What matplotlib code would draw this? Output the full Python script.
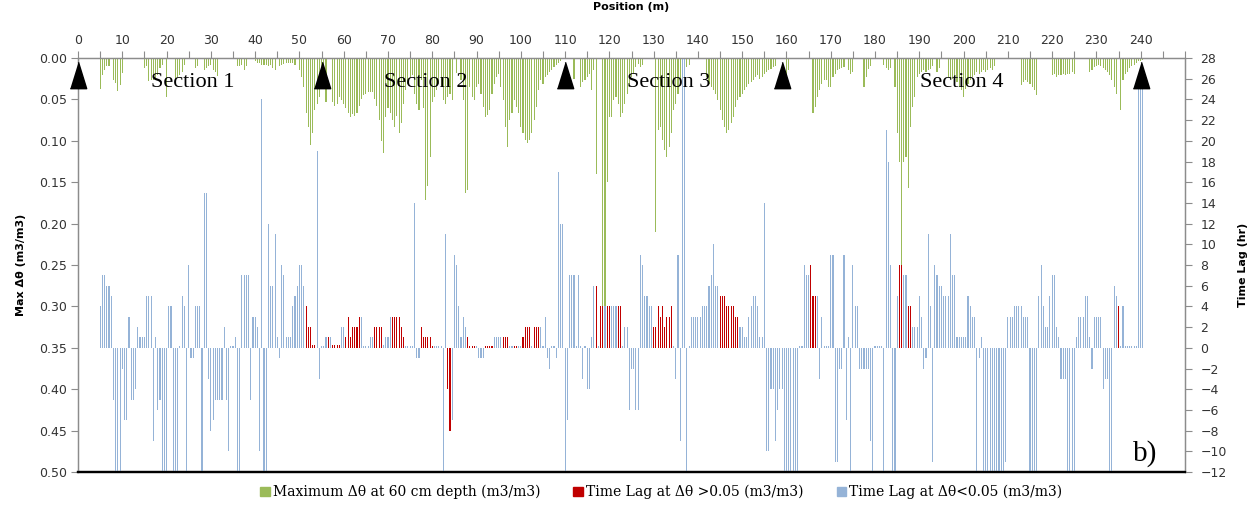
import numpy as np
import matplotlib.pyplot as plt
from matplotlib.patches import Patch
from matplotlib.transforms import blended_transform_factory

# readings every 0.5 m along the transect
position = np.arange(0, 241, 0.5)

# maximum change in water content at 60 cm, in 0.001 m3/m3 (one row = 10 m)
dtheta_milli = [
    0, 0, 0, 0, 0, 0, 0, 0, 0, 0, 37, 20, 15, 10, 10, 0, 27, 30, 40, 33,
    18, 0, 0, 0, 0, 0, 0, 0, 0, 0, 12, 10, 28, 26, 26, 24, 20, 12, 8, 0,
    47, 0, 0, 0, 25, 23, 21, 17, 9, 0, 0, 0, 0, 12, 10, 0, 0, 15, 12, 10,
    8, 15, 17, 22, 0, 0, 0, 0, 0, 0, 0, 0, 10, 10, 8, 15, 10, 0, 0, 0,
    4, 6, 6, 8, 8, 8, 10, 8, 12, 15, 0, 10, 8, 7, 6, 6, 6, 6, 8, 0,
    15, 23, 35, 67, 83, 105, 90, 63, 55, 47, 38, 30, 53, 0, 0, 53, 58, 55, 47, 51,
    55, 60, 66, 71, 68, 70, 66, 58, 50, 45, 43, 41, 41, 41, 50, 58, 75, 100, 115, 71,
    60, 67, 75, 83, 70, 90, 78, 55, 39, 31, 23, 20, 43, 55, 63, 27, 60, 172, 155, 120,
    53, 47, 39, 31, 35, 51, 55, 47, 43, 51, 0, 18, 0, 27, 51, 163, 160, 35, 47, 51,
    35, 31, 43, 59, 71, 69, 63, 43, 31, 23, 19, 35, 51, 83, 107, 75, 67, 51, 59, 67,
    83, 90, 99, 103, 99, 90, 75, 59, 39, 27, 31, 23, 21, 17, 15, 11, 9, 6, 4, 0,
    0, 0, 0, 0, 25, 0, 0, 35, 29, 27, 23, 19, 39, 15, 140, 0, 0, 300, 300, 150,
    71, 71, 51, 47, 55, 71, 67, 55, 43, 35, 23, 19, 11, 7, 11, 8, 0, 0, 0, 0,
    0, 210, 87, 83, 99, 111, 119, 107, 91, 63, 55, 43, 27, 15, 15, 11, 8, 0, 0, 0,
    0, 0, 0, 0, 23, 31, 35, 39, 43, 51, 63, 75, 83, 91, 87, 79, 71, 59, 51, 47,
    43, 39, 35, 31, 29, 27, 23, 21, 25, 23, 19, 17, 15, 13, 11, 10, 0, 0, 0, 0,
    23, 15, 0, 0, 0, 0, 0, 0, 0, 0, 0, 0, 67, 59, 47, 39, 31, 27, 27, 35,
    35, 23, 19, 15, 13, 12, 11, 0, 15, 19, 17, 0, 0, 0, 0, 35, 23, 13, 10, 0,
    0, 0, 0, 0, 8, 12, 15, 12, 0, 35, 90, 125, 250, 125, 120, 157, 83, 59, 47, 23,
    19, 17, 15, 17, 15, 13, 10, 0, 17, 12, 0, 0, 0, 23, 27, 25, 31, 29, 35, 39,
    47, 37, 31, 27, 23, 21, 17, 19, 17, 15, 17, 15, 12, 15, 10, 0, 0, 0, 0, 0,
    0, 0, 0, 0, 0, 0, 33, 29, 27, 29, 31, 35, 39, 45, 0, 0, 0, 0, 0, 0,
    21, 19, 23, 21, 21, 19, 21, 19, 19, 17, 19, 0, 0, 0, 0, 0, 0, 17, 15, 11,
    10, 8, 10, 12, 14, 17, 21, 27, 35, 43, 0, 63, 27, 19, 17, 12, 10, 8, 6, 4,
    4, 2,
]

# time lag in hours (one row = 10 m)
time_lag = [
    0, 0, 0, 0, 0, 0, 0, 0, 0, 0, 4, 7, 7, 6, 6, 5, -5, -12, -12, -12,
    -2, -7, -7, 3, -5, -5, -4, 2, 1, 1, 1, 5, 5, 5, -9, 1, -6, -5, -12, -12,
    -12, 4, 4, -12, -12, -12, 0.2, 5, 4, -12, 8, -1, -1, 4, 4, 4, -12, 15, 15, -3,
    -8, -7, -5, -5, -5, -5, 2, -5, -10, 0.2, 0.2, 1, -12, -12, 7, 7, 7, 7, -5, 3,
    3, 2, -10, 24, -12, -12, 12, 6, 6, 11, 1, -1, 8, 7, 1, 1, 1, 4, 5, 6,
    8, 8, 6, 4, 2, 2, 0.3, 0.3, 19, -3, 0.2, 0.2, 1, 1, 1, 0.3, 0.3, 0.3, 0.3, 2,
    2, 1, 3, 1, 2, 2, 2, 3, 3, 0.2, 0.2, 0.2, 1, 1, 2, 2, 2, 2, 0.3, 1,
    1, 3, 3, 3, 3, 3, 2, 1, 0.2, 0.2, 0.2, 0.2, 14, -1, -1, 2, 1, 1, 1, 1,
    0.2, 0.2, 0.2, 0.2, 0.2, -12, 11, -4, -8, -7, 9, 8, 4, 1, 3, 2, 1, 0.2, 0.2, 0.2,
    0.2, -1, -1, -1, 0.2, 0.2, 0.2, 0.2, 1, 1, 1, 1, 1, 1, 1, 0.2, 0.2, 0.2, 0.2, 0.2,
    0.2, 1, 2, 2, 2, 0.2, 2, 2, 2, 2, 0.2, 3, -1, -2, 0.2, 0.2, -1, 17, 12, 12,
    -12, -7, 7, 7, 7, 0.2, 7, 0.2, -3, 0.2, -4, -4, 1, 6, 6, 0.2, 4, 4, 4, 4,
    4, 4, 4, 4, 4, 4, 0.2, 2, 2, -6, -2, -2, -6, -6, 9, 8, 5, 5, 4, 4,
    2, 2, 4, 3, 4, 2, 3, 3, 4, 0.2, -3, 9, -9, 28, 28, -12, 0.2, 3, 3, 3,
    3, 3, 4, 4, 4, 6, 7, 10, 6, 6, 5, 5, 5, 4, 4, 4, 4, 3, 3, 2,
    2, 1, 1, 3, 4, 5, 5, 4, 1, 1, 14, -10, -10, -4, -4, -9, -6, -4, -4, -12,
    -12, -12, -12, -12, -12, -12, 0.2, 0.2, 8, 7, 7, 8, 5, 5, 5, -3, 3, 0.2, 0.2, 0.2,
    9, 9, -11, -11, -2, -2, 9, -7, 1, -12, 8, 4, 4, -2, -2, -2, -2, -2, -9, -12,
    0.2, 0.2, 0.2, 0.2, -12, 21, 18, 8, -12, -12, 5, 8, 8, 7, 7, 4, 4, 2, 2, 2,
    5, 3, -2, -1, 11, 4, -11, 8, 7, 6, 6, 5, 5, 5, 11, 7, 7, 1, 1, 1,
    1, 1, 5, 4, 3, 3, -12, -1, 1, -12, -12, -12, -12, -12, -12, -12, -12, -12, -12, -11,
    3, 3, 3, 4, 4, 4, 4, 3, 3, 3, -12, -12, -12, -12, 5, 8, 4, 2, 2, 5,
    7, 7, 2, 1, -3, -3, -3, -12, -12, -12, -12, 1, 3, 3, 3, 5, 5, 1, -2, 3,
    3, 3, 3, -4, -3, -3, -12, -12, 6, 5, 4, 0.2, 4, 0.2, 0.2, 0.2, 0.2, 0.2, 0.2, 25,
    25, 25,
]

# positions where the time lag belongs to a change above 0.05 m3/m3
red_positions = [
    51.5, 52, 52.5, 53, 53.5, 56.5, 57.5, 58, 58.5, 59,
    60.5, 61, 61.5, 62, 62.5, 63, 63.5, 67, 67.5, 68, 68.5,
    71, 71.5, 72, 72.5, 73, 73.5, 77.5, 78, 78.5, 79, 79.5,
    80, 83.5, 84, 88, 88.5, 89, 89.5,
    92, 92.5, 93, 93.5, 96, 96.5, 97, 98.5, 99,
    100.5, 101, 101.5, 102, 103, 103.5, 104,
    117, 118, 118.5, 119.5, 120, 122, 122.5,
    130, 130.5, 131, 131.5, 132, 132.5, 133, 133.5, 134,
    145, 145.5, 146, 146.5, 147, 147.5, 148, 148.5, 149,
    165.5, 166, 166.5, 185.5, 186, 187.5, 188, 235,
]

section_names = ['Section 1', 'Section 2', 'Section 3', 'Section 4']
section_x = [26, 78.5, 133.5, 199.5]
section_marks = [0, 55, 110, 159, 240]

green = '#9BBB59'
red = '#C00000'
blue = '#95B3D7'
grey = '#8C8C8C'

dtheta = np.array(dtheta_milli) / 1000.0
red_set = set(red_positions)
lag_colors = [red if p in red_set else blue for p in position]

fig = plt.figure(figsize=(12.57, 5.07), dpi=100)
ax = fig.add_axes([0.0621, 0.069, 0.8806, 0.8166])

ax.bar(position, dtheta, width=0.25, color=green, linewidth=0)
ax.set_xlim(0, 250)
ax.set_ylim(0.5, 0)
ax.set_yticks(np.arange(0, 0.501, 0.05))
ax.set_yticklabels(['%.2f' % v for v in np.arange(0, 0.501, 0.05)])

xt = np.arange(0, 251, 5)
ax.xaxis.tick_top()
ax.xaxis.set_label_position('top')
ax.set_xticks(xt)
ax.set_xticklabels([str(t) if t % 10 == 0 and t <= 240 else '' for t in xt])
ax.set_xlabel('Position (m)', fontsize=8, fontweight='bold', labelpad=17)
ax.set_ylabel('Max \u0394\u03b8 (m3/m3)', fontsize=8, fontweight='bold', labelpad=9)

ax2 = ax.twinx()
ax2.bar(position, time_lag, width=0.25, color=lag_colors, linewidth=0)
ax2.set_ylim(-12, 28)
ax2.set_yticks(np.arange(-12, 29, 2))
ax2.set_ylabel('Time Lag (hr)', fontsize=8, fontweight='bold', labelpad=8)

for a in (ax, ax2):
    for s in a.spines.values():
        s.set_color(grey)
        s.set_linewidth(0.9)
    a.spines['bottom'].set_color('black')
    a.spines['bottom'].set_linewidth(1.6)
    a.tick_params(length=5, width=0.8, color=grey, labelsize=9,
                  labelcolor='#333333', pad=3)
ax2.tick_params(axis='y', pad=6)

# section boundaries and names
trans = blended_transform_factory(ax2.transData, ax2.transAxes)
tri = [(-0.31, -0.5), (0.31, -0.5), (0, 0.5)]
ax2.plot(section_marks, [0.959] * len(section_marks), ls='none', marker=tri,
         ms=19, color='black', transform=trans, clip_on=False, zorder=6)
for name, x in zip(section_names, section_x):
    ax2.text(x, 0.942, name, transform=trans, ha='center', va='center',
             fontsize=16, family='Liberation Serif', zorder=6)
ax2.text(0.964, 0.045, 'b)', transform=ax2.transAxes, ha='center',
         va='center', fontsize=21, family='Liberation Serif')

handles = [Patch(color=green), Patch(color=red), Patch(color=blue)]
labels = ['Maximum \u0394\u03b8 at 60 cm depth (m3/m3)',
          'Time Lag at \u0394\u03b8 >0.05 (m3/m3)',
          'Time Lag at \u0394\u03b8<0.05 (m3/m3)']
fig.legend(handles, labels, loc='center', bbox_to_anchor=(0.526, 0.029),
           ncol=3, frameon=False, prop={'family': 'DejaVu Serif', 'size': 10},
           handlelength=0.7, handleheight=0.7, handletextpad=0.2,
           columnspacing=2.4)

fig.savefig('out.png', dpi=100)
